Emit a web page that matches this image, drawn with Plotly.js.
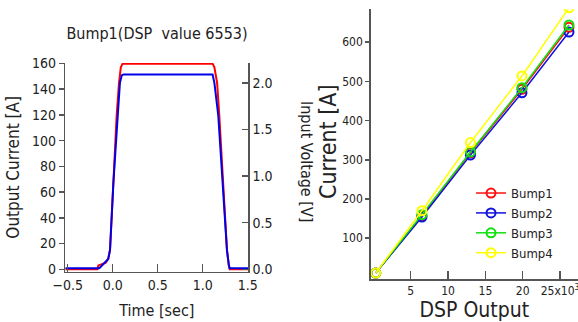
<!DOCTYPE html>
<html>
<head>
<meta charset="utf-8">
<script src="https://cdn.plot.ly/plotly-3.0.1.min.js"></script>
<style>html,body{margin:0;padding:0;background:#fff;}#chart{width:578px;height:322px;}</style>
</head>
<body>
<div id="chart"></div>
<script>
// Left panel: time trace (Bump1, DSP value 6553)
const timeRed = [-0.527, -0.17, -0.16, -0.12, -0.08, -0.05, -0.03, 0.007, 0.044, 0.07, 0.09, 0.11, 1.11, 1.13, 1.16, 1.184, 1.225, 1.27, 1.29, 1.30, 1.507];
const currentRed = [0, 0, 3, 4, 5, 8, 15, 67, 120, 145, 157, 159.8, 159.8, 157, 145, 120, 67, 15, 3, 0, 0];
const timeBlue = [-0.527, -0.15, -0.13, -0.085, -0.05, -0.03, 0.007, 0.056, 0.08, 0.10, 0.12, 1.11, 1.13, 1.173, 1.22, 1.27, 1.29, 1.30, 1.507];
const voltageBlue = [0.011, 0.011, 0.03, 0.075, 0.11, 0.207, 0.92, 1.65, 2.0, 2.08, 2.09, 2.09, 2.0, 1.65, 0.92, 0.2, 0.05, 0.011, 0.011];

// Right panel: current vs DSP output
const dspOutput = [310, 6500, 13000, 19900, 26200];
const bump1 = [11, 157, 318, 480, 638];
const bump2 = [11, 154, 312, 471, 626];
const bump3 = [11, 160, 320, 484, 644];
const bump4 = [11, 170, 344, 514, 688];
const bumpNames = ['Bump1', 'Bump2', 'Bump3', 'Bump4'];
const bumpColors = ['#ff1010', '#1010e0', '#10e010', '#ffff00'];
const dspTickVals = [5000, 10000, 15000, 20000, 25000];
const dspTickText = ['5', '10', '15', '20', '25x10<sup>3</sup>'];
const currentTickVals = [100, 200, 300, 400, 500, 600];

const FONT = 'DejaVu Sans Condensed, DejaVu Sans, sans-serif';
const TXT = '#222';
const AX = '#555';

const traces = [
  {x: timeRed, y: currentRed, type: 'scatter', mode: 'lines', line: {color: '#ff0000', width: 2}, xaxis: 'x', yaxis: 'y', showlegend: false, hoverinfo: 'skip'},
  {x: timeBlue, y: voltageBlue, type: 'scatter', mode: 'lines', line: {color: '#0000e6', width: 2}, xaxis: 'x', yaxis: 'y2', showlegend: false, hoverinfo: 'skip'}
];
const bumpSeries = [bump1, bump2, bump3, bump4];
bumpSeries.forEach((vals, i) => {
  traces.push({
    x: dspOutput, y: vals, type: 'scatter', mode: 'lines+markers', name: bumpNames[i],
    line: {color: bumpColors[i], width: 1.5},
    marker: {symbol: 'circle-open', size: 9, color: bumpColors[i], line: {width: 2, color: bumpColors[i]}},
    xaxis: 'x3', yaxis: 'y3'
  });
});

const baseAxis = {showgrid: false, zeroline: false, showline: true, linecolor: AX, linewidth: 1.5, tickcolor: AX, tickwidth: 1.5,
  tickfont: {family: FONT, size: 14, color: TXT}};

const layout = {
  width: 578, height: 322,
  margin: {l: 0, r: 0, t: 0, b: 0},
  paper_bgcolor: '#fff', plot_bgcolor: '#fff',
  font: {family: FONT, color: TXT},
  title: {text: 'Bump1(DSP\u00a0\u00a0value\u00a06553)', x: 157 / 578, xanchor: 'center', y: 1 - 33 / 322, yanchor: 'middle', font: {family: FONT, size: 16, color: TXT}},
  xaxis: Object.assign({}, baseAxis, {domain: [0.113, 0.4296], anchor: 'y', range: [-0.527, 1.507], ticks: 'inside', ticklen: 8,
    tickmode: 'linear', tick0: -0.5, dtick: 0.5, tickformat: '.1f',
    title: {text: 'Time [sec]', font: {family: FONT, size: 16, color: TXT}, standoff: 13}}),
  yaxis: Object.assign({}, baseAxis, {domain: [0.1562, 0.8043], anchor: 'x', range: [-1.9, 160.3], ticks: 'outside', ticklen: 5,
    tickmode: 'linear', tick0: 0, dtick: 20,
    title: {text: 'Output Current [A]', font: {family: FONT, size: 17, color: TXT}, standoff: 8}}),
  yaxis2: Object.assign({}, baseAxis, {overlaying: 'y', side: 'right', anchor: 'x', range: [-0.026, 2.213], ticks: 'inside', ticklen: 6,
    tickmode: 'linear', tick0: 0, dtick: 0.5, tickformat: '.1f'}),
  xaxis3: Object.assign({}, baseAxis, {domain: [0.6414, 1], anchor: 'y3', range: [-358, 27410], ticks: 'inside', ticklen: 8,
    tickmode: 'array', tickvals: dspTickVals, ticktext: dspTickText, tickfont: {family: FONT, size: 12, color: TXT},
    ticklabeloverflow: 'allow',
    title: {text: 'DSP Output', font: {family: FONT, size: 21, color: TXT}, standoff: 8}}),
  yaxis3: Object.assign({}, baseAxis, {domain: [0.1326, 0.971], anchor: 'x3', range: [-5, 684], ticks: 'outside', ticklen: 4,
    tickmode: 'array', tickvals: currentTickVals, tickfont: {family: FONT, size: 12, color: TXT}}),
  legend: {x: 471 / 578, y: 0.447, xanchor: 'left', yanchor: 'top', bgcolor: 'rgba(0,0,0,0)', font: {family: FONT, size: 13, color: TXT},
    tracegroupgap: 0, itemwidth: 30},
  annotations: [
    {text: 'Input Voltage [V]', xref: 'paper', yref: 'paper', x: 307 / 578, y: 1 - 161 / 322, showarrow: false, textangle: 90,
      font: {family: FONT, size: 16, color: TXT}, xanchor: 'center', yanchor: 'middle'},
    {text: 'Current [A]', xref: 'paper', yref: 'paper', x: 328 / 578, y: 1 - 142 / 322, showarrow: false, textangle: -90,
      font: {family: FONT, size: 23, color: TXT}, xanchor: 'center', yanchor: 'middle'}
  ]
};

Plotly.newPlot('chart', traces, layout, {staticPlot: true, displayModeBar: false});
</script>
</body>
</html>
